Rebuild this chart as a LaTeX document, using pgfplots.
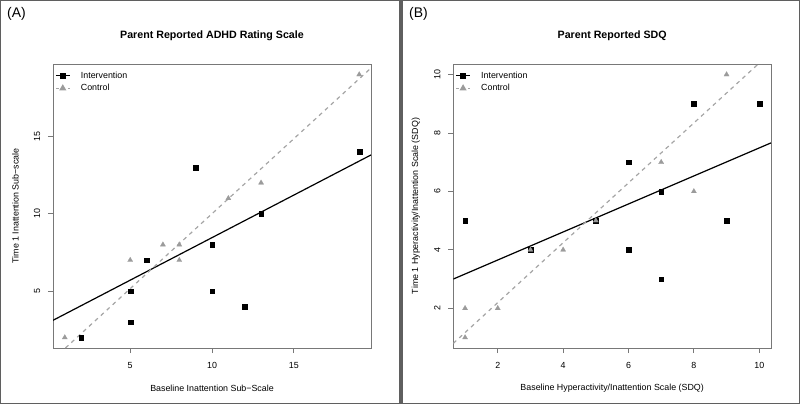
\documentclass[border=0pt]{standalone}
\usepackage{pgfplots}
\pgfplotsset{compat=1.18}
\usepackage{fontspec}
\setmainfont{Liberation Sans}
\definecolor{boxc}{RGB}{120,120,120}
\definecolor{framec}{RGB}{95,95,95}
\definecolor{ctrl}{RGB}{155,155,155}
\definecolor{ctrlline}{RGB}{165,165,165}
\newcommand{\basefont}{\fontsize{8.9}{10}\selectfont}
\pgfplotsset{
  rstyle/.style={
    scale only axis,
    anchor=south west,
    axis line style={draw=boxc, line width=0.8bp},
    tick align=outside,
    xtick pos=bottom,
    ytick pos=left,
    major tick length=5bp,
    every tick/.style={draw=boxc, line width=0.8bp},
    /pgf/number format/assume math mode=true,
    tick label style={font=\basefont},
    xticklabel style={anchor=center, yshift=-12.7bp},
    yticklabel style={xshift=-11bp, rotate=90, anchor=center},
    every axis x label/.style={at={(axis description cs:0.5,0)}, anchor=center, yshift=-40.7bp, font=\basefont},
    every axis y label/.style={at={(axis description cs:0,0.5)}, xshift=-37.5bp, rotate=90, anchor=center, font=\basefont},
    title style={at={(axis description cs:0.5,1)}, anchor=center, yshift=22bp, font=\fontsize{10.7}{12}\selectfont\bfseries},
    legend style={at={(axis description cs:0,1)}, anchor=north west, draw=none, fill=none, font=\basefont,
      xshift=1bp, yshift=-5bp, inner sep=1bp, row sep=1.8bp,
      nodes={inner sep=1.5bp},
      /tikz/every odd column/.append style={column sep=9bp}},
    legend cell align=left,
    legend image code/.code={\draw[mark repeat=2,mark phase=2,#1] plot coordinates {(0bp,0bp) (7bp,0bp) (14bp,0bp)};},
    clip=true,
  },
  intpts/.style={only marks, mark=square*, mark size=2.4bp, mark options={fill=black, draw=black, line width=0.2bp}},
  ctlpts/.style={only marks, mark=triangle*, mark size=3bp, mark options={fill=ctrl, draw=ctrl, line width=0.2bp}},
  intline/.style={black, line width=1.2bp, no marks},
  ctlline/.style={ctrlline, line width=1.2bp, dash pattern=on 4bp off 4bp, no marks},
}
\begin{document}
\begin{tikzpicture}[x=1bp,y=1bp]
\path[use as bounding box] (0,0) rectangle (800,404);
\draw[framec, line width=1.2bp] (0.6,0.9) rectangle (400,403.4);
\draw[framec, line width=1.2bp] (402,0.9) rectangle (799.4,403.4);
\node[font=\fontsize{14}{16}\selectfont, anchor=west, inner sep=0pt] at (7,390) {(A)};
\node[font=\fontsize{14}{16}\selectfont, anchor=west, inner sep=0pt] at (409,390) {(B)};

\begin{axis}[rstyle, at={(53bp,56bp)}, width=318bp, height=284bp,
  xmin=0.28, xmax=19.72, ymin=1.32, ymax=19.68,
  xtick={5,10,15}, ytick={5,10,15},
  title={Parent Reported ADHD Rating Scale},
  xlabel={Baseline Inattention Sub−Scale},
  ylabel={Time 1 Inattention Sub−scale}]
\addlegendimage{black, line width=1.2bp, mark=square*, mark size=2.4bp, mark options={solid, fill=black}}
\addlegendentry{Intervention}
\addlegendimage{ctrlline, line width=1.2bp, dash pattern=on 3bp off 3bp, mark=triangle*, mark size=3bp, mark options={solid, fill=ctrl, draw=ctrl}}
\addlegendentry{Control}
\addplot[intpts, forget plot] coordinates {(2,2) (5,3) (5,5) (6,7) (10,8) (10,5) (12,4) (13,10) (9,13) (19,14)};
\addplot[ctlpts, forget plot] coordinates {(1,2) (5,7) (7,8) (8,8) (8,7) (11,11) (13,12) (19,19)};
\addplot[intline, forget plot] coordinates {(0.28,3.11) (19.72,13.8)};
\addplot[ctlline, forget plot] coordinates {(1.04,1.32) (19.72,19.42)};
\end{axis}

\begin{axis}[rstyle, at={(453.3bp,56bp)}, width=317.7bp, height=284bp,
  xmin=0.64, xmax=10.36, ymin=0.64, ymax=10.36,
  xtick={2,4,6,8,10}, ytick={2,4,6,8,10},
  title={Parent Reported SDQ},
  xlabel={Baseline Hyperactivity/Inattention Scale (SDQ)},
  ylabel={Time 1 Hyperactivity/Inattention Scale (SDQ)}]
\addlegendimage{black, line width=1.2bp, mark=square*, mark size=2.4bp, mark options={solid, fill=black}}
\addlegendentry{Intervention}
\addlegendimage{ctrlline, line width=1.2bp, dash pattern=on 3bp off 3bp, mark=triangle*, mark size=3bp, mark options={solid, fill=ctrl, draw=ctrl}}
\addlegendentry{Control}
\addplot[intpts, forget plot] coordinates {(1,5) (3,4) (5,5) (6,7) (6,4) (7,6) (7,3) (8,9) (9,5) (10,9)};
\addplot[ctlpts, forget plot] coordinates {(1,2) (1,1) (2,2) (3,4) (4,4) (5,5) (7,7) (8,6) (9,10)};
\addplot[intline, forget plot] coordinates {(0.64,3.0) (10.36,7.66)};
\addplot[ctlline, forget plot] coordinates {(0.64,0.8) (9.97,10.36)};
\end{axis}
\end{tikzpicture}
\end{document}
